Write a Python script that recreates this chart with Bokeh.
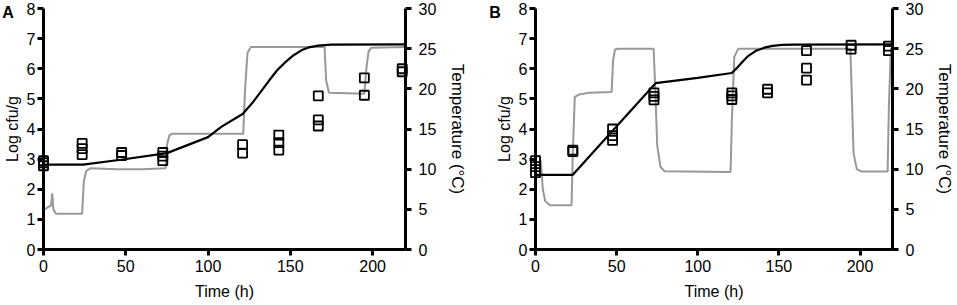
from bokeh.plotting import figure
from bokeh.layouts import row
from bokeh.models import Range1d, LinearAxis, FixedTicker
from bokeh.core.properties import value
from bokeh.embed import file_html
from bokeh.resources import INLINE

# ---------------- data ----------------
x_ticks = [0, 50, 100, 150, 200]
y_ticks = [0, 1, 2, 3, 4, 5, 6, 7, 8]
temp_ticks = [0, 5, 10, 15, 20, 25, 30]

# Panel A: modelled log cfu/g
a_model_time = [0, 24, 47, 75, 100, 108, 121, 127, 132, 137, 142, 147, 152, 157, 162, 167, 175, 220]
a_model_log = [2.82, 2.82, 2.98, 3.2, 3.73, 4.07, 4.5, 4.87, 5.23, 5.6, 5.95, 6.22, 6.45, 6.62, 6.72, 6.77, 6.8, 6.81]
# Panel A: temperature profile (deg C)
a_temp_time = [0, 1.5, 3, 4.6, 5.3, 6.0, 7.5, 23.5, 24.5, 26, 28.5, 45, 60, 74.2, 75, 76.5, 78, 121.4, 122.5, 124, 126,
               170.8, 171.8, 173.5, 195, 196.2, 197.5, 199, 220]
a_temp_val = [4.9, 5.1, 5.3, 5.5, 7.0, 5.0, 4.45, 4.45, 8.5, 9.8, 10.1, 10.0, 10.0, 10.1, 13.0, 14.2, 14.4, 14.4, 20.0, 24.5, 25.2,
              25.2, 21.0, 19.5, 19.4, 22.5, 24.6, 25.1, 25.2]
# Panel A: observed counts
a_obs_time = [0, 0, 0, 23.5, 23.5, 23.5, 47.5, 47.5, 72.5, 72.5, 72.5, 121, 121, 143, 143, 143,
              167, 167, 167, 195, 195, 218, 218]
a_obs_log = [2.78, 2.88, 2.95, 3.15, 3.35, 3.52, 3.12, 3.22, 2.95, 3.1, 3.22, 3.2, 3.48, 3.3, 3.55, 3.8,
             4.1, 4.3, 5.1, 5.12, 5.7, 5.9, 6.0]

# Panel B: modelled log cfu/g
b_model_time = [0, 23, 74, 100, 121, 124, 127, 131, 136, 141, 146, 152, 160, 220]
b_model_log = [2.48, 2.48, 5.52, 5.7, 5.86, 6.02, 6.2, 6.42, 6.6, 6.7, 6.76, 6.79, 6.8, 6.81]
# Panel B: temperature profile (deg C)
b_temp_time = [0, 2.5, 3.5, 4.5, 6, 9, 22.2, 23.0, 24.2, 27, 33, 46.9, 47.8, 49, 51, 72.8, 73.8, 75, 77, 79.4,
               120.2, 121, 122.5, 125, 194, 194.8, 196, 198, 201, 217, 217.8, 219, 220]
b_temp_val = [11.5, 11.7, 10.5, 7.5, 6.0, 5.5, 5.5, 12.0, 19.0, 19.3, 19.5, 19.6, 23.5, 24.9, 25.0, 25.0, 20.0, 13.0,
              10.3, 9.75, 9.65, 16.0, 24.0, 25.0, 25.0, 20.0, 12.0, 10.0, 9.7, 9.7, 18.0, 25.0, 25.0]
# Panel B: observed counts
b_obs_time = [0, 0, 0, 23, 23, 47.5, 47.5, 47.5, 73, 73, 73, 121, 121, 121, 143, 143,
              167, 167, 167, 194.5, 194.5, 217.5, 217.5]
b_obs_log = [2.55, 2.75, 2.95, 3.25, 3.3, 3.62, 3.78, 4.0, 4.97, 5.08, 5.2, 4.98, 5.1, 5.2, 5.2, 5.32,
             5.62, 6.02, 6.6, 6.65, 6.78, 6.6, 6.75]

FONT = "Liberation Sans"


def make_panel(letter, model_t, model_y, temp_t, temp_y, obs_t, obs_y, left_border, right_border, width, letter_x):
    p = figure(width=width, height=305, output_backend="svg", toolbar_location=None,
               x_range=Range1d(0, 220), y_range=Range1d(0, 8),
               min_border_left=left_border, min_border_right=right_border,
               min_border_top=8, min_border_bottom=56)
    p.extra_y_ranges = {"temp": Range1d(0, 30)}
    p.outline_line_color = None
    p.xgrid.visible = False
    p.ygrid.visible = False
    p.background_fill_color = "white"
    p.border_fill_color = "white"

    # temperature
    p.line(temp_t, temp_y, y_range_name="temp", line_color="#989898", line_width=2)
    # model
    p.line(model_t, model_y, line_color="black", line_width=2.2)
    # observations
    p.scatter(obs_t, obs_y, marker="square", size=9, fill_color=None, line_color="black",
              line_width=1.8, level="overlay")

    rax = LinearAxis(y_range_name="temp", axis_label="Temperature (°C)")
    p.add_layout(rax, "right")

    p.xaxis.axis_label = "Time (h)"
    p.yaxis[0].axis_label = "Log cfu/g"
    p.xaxis.ticker = FixedTicker(ticks=x_ticks)
    p.yaxis[0].ticker = FixedTicker(ticks=y_ticks)
    rax.ticker = FixedTicker(ticks=temp_ticks)

    for ax in p.xaxis + p.yaxis:
        ax.axis_line_width = 3
        ax.axis_line_color = "black"
        ax.major_tick_line_width = 3
        ax.major_tick_line_color = "black"
        ax.major_tick_in = 0
        ax.major_tick_out = 6
        ax.minor_tick_line_color = None
        ax.major_label_text_font = FONT
        ax.major_label_text_font_size = "16px"
        ax.major_label_text_color = "black"
        ax.axis_label_text_font = FONT
        ax.axis_label_text_font_size = "16px"
        ax.axis_label_text_font_style = "normal"
        ax.axis_label_text_color = "black"
    p.yaxis[0].major_label_standoff = 2
    p.yaxis[0].axis_label_standoff = 3
    rax.major_label_standoff = 7
    rax.axis_label_standoff = 9
    rax.axis_label_text_font_size = "17px"
    p.xaxis.major_label_standoff = 4
    p.xaxis.axis_label_standoff = 8

    p.text(x=[letter_x], y=[8.14], text=[letter], text_font=value(FONT), text_font_size="16px",
           text_font_style="bold", text_baseline="top", text_align="left", text_color="black",
           level="overlay")
    return p


pa = make_panel("A", a_model_time, a_model_log, a_temp_time, a_temp_val, a_obs_time, a_obs_log,
                43, 73, 478, -25)
pb = make_panel("B", b_model_time, b_model_log, b_temp_time, b_temp_val, b_obs_time, b_obs_log,
                57, 60, 479, -28.5)

layout = row(pa, pb)
open("out.html", "w").write(file_html(layout, INLINE))
